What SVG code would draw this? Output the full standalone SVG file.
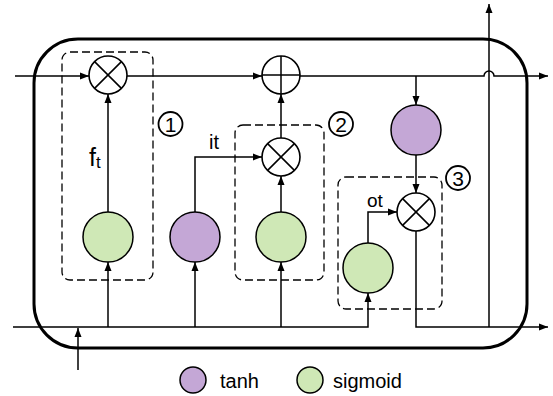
<svg xmlns="http://www.w3.org/2000/svg" width="553" height="396" viewBox="0 0 553 396">
<defs>
<marker id="arr" markerUnits="userSpaceOnUse" markerWidth="10" markerHeight="8" refX="9" refY="4" orient="auto">
<path d="M0,0.5 L9,4 L0,7.5 z" fill="#000"/>
</marker>
<style>
.ln{fill:none;stroke:#000;stroke-width:1.5}
.ar{fill:none;stroke:#000;stroke-width:1.5;marker-end:url(#arr)}
.op{fill:#fff;stroke:#000;stroke-width:1.6}
.tanh{fill:#C4A7D6;stroke:#000;stroke-width:1.5}
.sig{fill:#CFE8B6;stroke:#000;stroke-width:1.5}
.box{fill:none;stroke:#000;stroke-width:1.3;stroke-dasharray:8 4}
.lbl{font-family:"Liberation Sans",Arial,sans-serif;fill:#000}
.nc{fill:#fff;stroke:#000;stroke-width:1.8}
.num{font-family:"Liberation Sans",Arial,sans-serif;fill:#000;font-size:21px;text-anchor:middle}
</style>
</defs>
<rect id="cell" x="34" y="39" width="493" height="309" rx="44" ry="44" fill="none" stroke="#000" stroke-width="3"/>
<g id="boxes">
<rect id="box1" class="box" x="62" y="52" width="91" height="228" rx="8"/>
<rect id="box2" class="box" x="235" y="125" width="89" height="155" rx="8"/>
<rect id="box3" class="box" x="338" y="177" width="104" height="132" rx="8"/>
</g>
<g id="connectors">
<path class="ar" d="M15,76 H89"/>
<path class="ar" d="M127,76 H262"/>
<path class="ar" d="M300,76 H484 A5,5 0 0 1 494,76 H548"/>
<path class="ar" d="M416,76 V105"/>
<path class="ar" d="M416,155 V193"/>
<path class="ar" d="M416,231 V327 H548"/>
<path class="ar" d="M489,327 V4"/>
<path class="ar" d="M13,327 H368 V293"/>
<path class="ar" d="M78,370 V328"/>
<path class="ar" d="M108,327 V262"/>
<path class="ar" d="M195,327 V262"/>
<path class="ar" d="M281,327 V262"/>
<path class="ar" d="M108,212 V94"/>
<path class="ar" d="M195,212 V157 H262"/>
<path class="ar" d="M281,212 V176"/>
<path class="ar" d="M281,138 V94"/>
<path class="ar" d="M368,243 V212 H397"/>
</g>
<g id="forget-mult">
<circle class="op" cx="108" cy="75" r="19"/>
<path class="ln" d="M94.6,61.6 L121.4,88.4 M121.4,61.6 L94.6,88.4"/>
</g>
<g id="add">
<circle class="op" cx="281" cy="75" r="19"/>
<path class="ln" d="M262,75 H300 M281,56 V94"/>
</g>
<g id="input-mult">
<circle class="op" cx="281" cy="157" r="19"/>
<path class="ln" d="M267.6,143.6 L294.4,170.4 M294.4,143.6 L267.6,170.4"/>
</g>
<g id="output-mult">
<circle class="op" cx="416" cy="212" r="19"/>
<path class="ln" d="M402.6,198.6 L429.4,225.4 M429.4,198.6 L402.6,225.4"/>
</g>
<g id="forget-sigmoid"><circle class="sig" cx="108" cy="237" r="25"/></g>
<g id="input-tanh"><circle class="tanh" cx="195" cy="237" r="25"/></g>
<g id="input-sigmoid"><circle class="sig" cx="281" cy="237" r="25"/></g>
<g id="output-sigmoid"><circle class="sig" cx="368" cy="268" r="25"/></g>
<g id="cell-tanh"><circle class="tanh" cx="416" cy="130" r="25"/></g>
<g id="labels">
<text class="lbl" x="89" y="166" font-size="25">f<tspan font-size="17" dy="2">t</tspan></text>
<text class="lbl" x="209" y="149" font-size="20">it</text>
<text class="lbl" x="367" y="207" font-size="19">ot</text>
</g>
<g id="step1"><circle class="nc" cx="170.5" cy="124" r="12"/><text class="num" x="170.5" y="131.5">1</text></g>
<g id="step2"><circle class="nc" cx="341" cy="124" r="12"/><text class="num" x="341" y="131.5">2</text></g>
<g id="step3"><circle class="nc" cx="458" cy="178" r="12"/><text class="num" x="458" y="185.5">3</text></g>
<g id="legend">
<circle class="tanh" cx="193" cy="380" r="13"/>
<text class="lbl" x="220" y="388" font-size="20">tanh</text>
<circle class="sig" cx="310" cy="380" r="13"/>
<text class="lbl" x="333" y="388" font-size="20">sigmoid</text>
</g>
</svg>
